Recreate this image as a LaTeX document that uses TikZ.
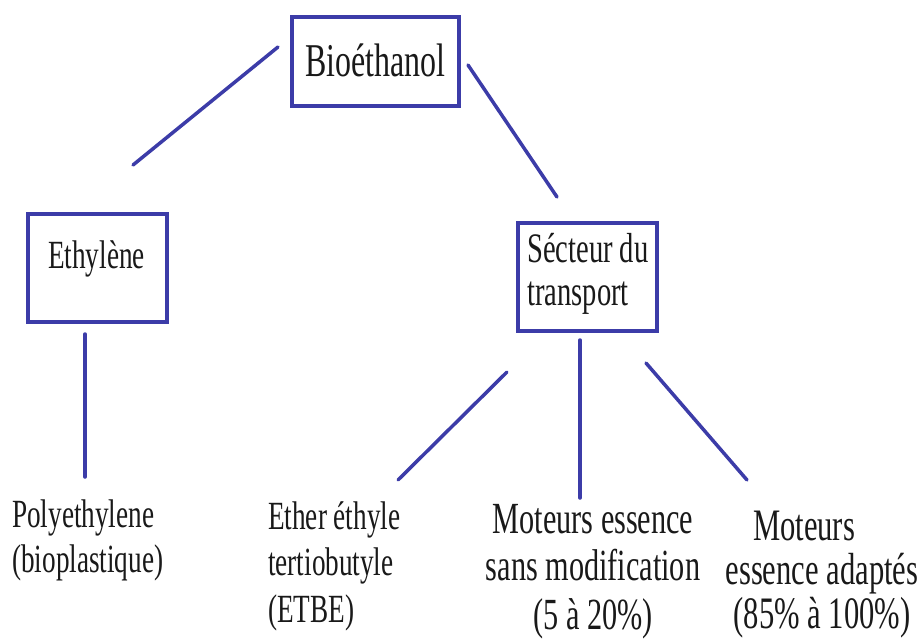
\documentclass[tikz,border=0pt]{standalone}
\usepackage{fontspec}
\setmainfont{Liberation Serif}[FakeStretch=0.68]
\definecolor{linkblue}{RGB}{60,60,168}
\definecolor{inkgray}{RGB}{25,25,25}
\begin{document}
\begin{tikzpicture}[x=1pt,y=-1pt,
  box/.style={draw=linkblue, line width=3.5pt, rectangle, inner sep=0pt},
  link/.style={draw=linkblue, line width=3.5pt, line cap=round},
  lbl/.style={text=inkgray, inner sep=0pt, font=\fontsize{42}{46}\selectfont}]
\path[use as bounding box] (0,0) rectangle (922,640);

% boxes
\node[box, minimum width=167pt, minimum height=89pt] (bio) at (375.5,61.5) {};
\node[box, minimum width=139pt, minimum height=108pt] (eth) at (97.5,268) {};
\node[box, minimum width=139pt, minimum height=108pt] (sec) at (587.5,277) {};

% box labels (multi-line nodes are placed by the baseline of their last line)
\node[lbl, anchor=base west, font=\fontsize{47}{50}\selectfont] (biot) at (305,76) {Bioéthanol};
\node[lbl, anchor=base west, font=\fontsize{40}{44}\selectfont] (etht) at (48,268) {Ethylène};
\node[lbl, anchor=base west, align=left, font=\fontsize{42}{43}\selectfont] (sect) at (527,305) {Sécteur du\\transport};

% end labels
\node[lbl, anchor=base west, align=left, font=\fontsize{40}{45}\selectfont] (poly) at (12,572) {Polyethylene\\(bioplastique)};
\node[lbl, anchor=base west, align=left, font=\fontsize{40}{46.5}\selectfont] (etbe) at (268,622) {Ether éthyle\\tertiobutyle\\(ETBE)};
\node[lbl, anchor=base, align=center, font=\fontsize{44.5}{47}\selectfont] (mot1) at (593,629) {Moteurs essence\\sans modification\\[2pt](5 à 20\%)};
\node[lbl, anchor=base, align=center, font=\fontsize{45}{44}\selectfont] (mot2) at (822,628) {Moteurs\hspace*{36pt}\\essence adaptés\\(85\% à 100\%)};

% connector end points
\coordinate (bioL) at (278,47);
\coordinate (bioR) at (468,65);
\coordinate (ethT) at (133,165);
\coordinate (secT) at (557,197);
\coordinate (ethB) at (85,334);
\coordinate (polyT) at (85,477);
\coordinate (secBL) at (507,372);
\coordinate (secBM) at (580,340);
\coordinate (secBR) at (646,363);
\coordinate (etbeT) at (398,480);
\coordinate (mot1T) at (580,498);
\coordinate (mot2T) at (747,480);

% connectors
\draw[link] (bioL) -- (ethT);
\draw[link] (bioR) -- (secT);
\draw[link] (ethB) -- (polyT);
\draw[link] (secBL) -- (etbeT);
\draw[link] (secBM) -- (mot1T);
\draw[link] (secBR) -- (mot2T);
\end{tikzpicture}
\end{document}
